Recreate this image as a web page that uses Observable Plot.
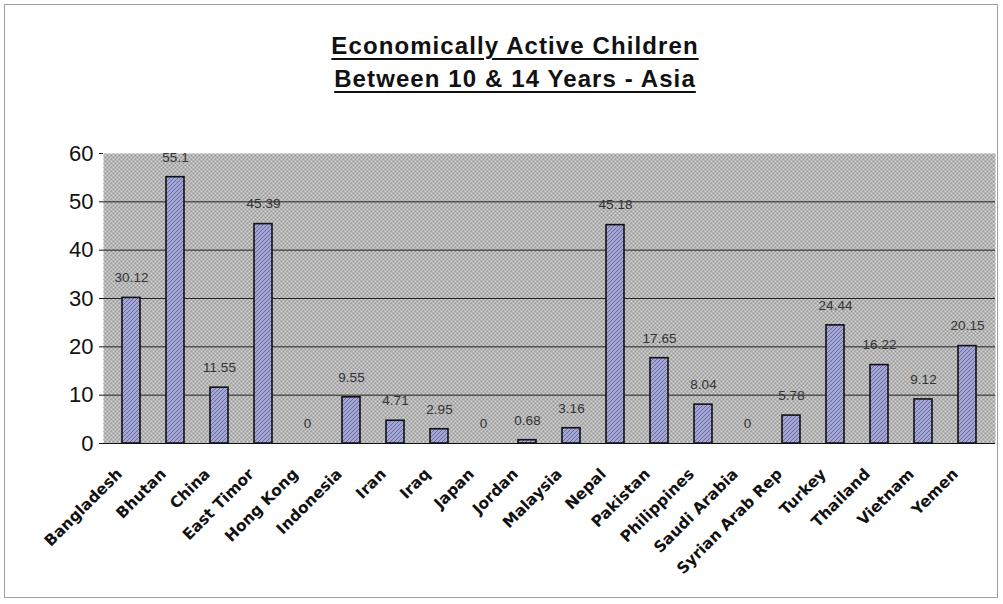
<!DOCTYPE html>
<html>
<head>
<meta charset="utf-8">
<script src="https://cdn.jsdelivr.net/npm/d3@7"></script>
<script src="https://cdn.jsdelivr.net/npm/@observablehq/plot@0.6"></script>
<style>
  html, body { margin: 0; padding: 0; background: #fff; }
  #wrap { position: relative; width: 1003px; height: 604px; overflow: hidden; }
  #frame { position: absolute; left: 4px; top: 4px; width: 994px; height: 594px; border: 1px solid #a0a0a0; box-sizing: border-box; pointer-events: none; }
  #title { position: absolute; left: 0; width: 1030px; top: 29px; text-align: center;
    font-family: "Liberation Sans", Arial, sans-serif; font-weight: bold; font-size: 24px; letter-spacing: 1.1px; line-height: 33px; color: #111; }
  #title span { text-decoration: underline; text-decoration-thickness: 2px; text-underline-offset: 4px; }
  #chart { position: absolute; left: 0; top: 0; }
</style>
</head>
<body>
<div id="wrap">
  <div id="chart"></div>
  <div id="title"><span>Economically Active Children</span><br><span>Between 10 &amp; 14 Years - Asia</span></div>
  <div id="frame"></div>
</div>
<script>
const countries = ["Bangladesh", "Bhutan", "China", "East Timor", "Hong Kong", "Indonesia", "Iran", "Iraq", "Japan", "Jordan", "Malaysia", "Nepal", "Pakistan", "Philippines", "Saudi Arabia", "Syrian Arab Rep", "Turkey", "Thailand", "Vietnam", "Yemen"];
const values = [30.12, 55.1, 11.55, 45.39, 0, 9.55, 4.71, 2.95, 0, 0.68, 3.16, 45.18, 17.65, 8.04, 0, 5.78, 24.44, 16.22, 9.12, 20.15];
const yTicks = [0, 10, 20, 30, 40, 50, 60];

const data = countries.map((c, i) => ({country: c, value: values[i]}));

const chart = Plot.plot({
  width: 1003,
  height: 604,
  marginTop: 153,
  marginBottom: 161,
  marginLeft: 103,
  marginRight: 8,
  style: {fontFamily: "'Liberation Sans', Arial, sans-serif", background: "transparent", color: "#111"},
  x: {domain: countries, paddingInner: 0.58, paddingOuter: 0.29, label: null},
  y: {domain: [0, 60], label: null},
  marks: [
    Plot.frame({fill: "url(#bgpat)", stroke: "none"}),
    Plot.ruleY(yTicks.filter(d => d > 0 && d < 60), {stroke: "#222", strokeWidth: 1}),
    Plot.barY(data, {x: "country", y: "value", fill: "url(#barpat)", stroke: "#111", strokeWidth: 1.6}),
    Plot.text(data, {x: "country", y: "value", text: d => String(d.value), dy: -20, fontSize: 13.5, fill: "#333", fontFamily: "'Liberation Sans', Arial, sans-serif"}),
    Plot.ruleX([0], {frameAnchor: "left", stroke: "#111"}),
    Plot.ruleY([0], {stroke: "#111"}),
    Plot.axisY({ticks: yTicks, tickSize: 4, tickPadding: 6, fontSize: 22, stroke: "#111", label: null}),
    Plot.axisX({tickSize: 0, tickPadding: 28, dx: -12, tickRotate: -45, fontSize: 15.5, fontWeight: "bold", fontFamily: "'DejaVu Sans', sans-serif", label: null})
  ]
});

const ns = "http://www.w3.org/2000/svg";
const defs = document.createElementNS(ns, "defs");
defs.innerHTML = `
  <pattern id="bgpat" patternUnits="userSpaceOnUse" width="4" height="4">
    <rect width="4" height="4" fill="#d8d8d8"/>
    <rect width="2" height="2" fill="#929292"/>
    <rect x="2" y="2" width="2" height="2" fill="#929292"/>
  </pattern>
  <pattern id="barpat" patternUnits="userSpaceOnUse" width="4" height="4">
    <rect width="4" height="4" fill="#a3a6d6"/>
    <path d="M-1,1 l2,-2 M0,4 l4,-4 M3,5 l2,-2" stroke="#6a6c9a" stroke-width="1"/>
  </pattern>`;
chart.insertBefore(defs, chart.firstChild);
document.getElementById("chart").appendChild(chart);
</script>
</body>
</html>
